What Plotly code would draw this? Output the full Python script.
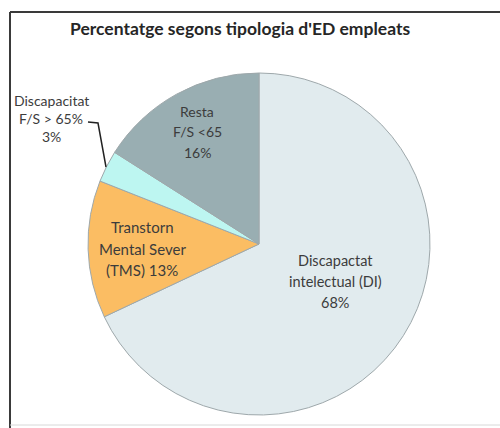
import plotly.graph_objects as go

# ---- data ----
labels = ["Discapactat intelectual (DI)", "Transtorn Mental Sever (TMS)",
          "Discapacitat F/S > 65%", "Resta F/S <65"]
values = [68, 13, 3, 16]
# how each label is broken into lines (the percentage is appended by the code)
label_lines = [["Discapactat", "intelectual (DI)"],
               ["Transtorn", "Mental Sever", "(TMS)"],
               ["Discapacitat", "F/S > 65%"],
               ["Resta", "F/S <65"]]
pct_on_last_line = [False, True, False, False]
title_text = "Percentatge segons tipologia d'ED empleats"

# ---- style / layout ----
colors = ["#e1ebee", "#fbbd63", "#bdf6f1", "#99aeb2"]
W, H = 500, 428
FONT = "Lato, 'Open Sans', sans-serif"
TXT = "#3c3c3c"
# text block anchors (pixel centers of first line) and line spacing
text_anchor = [(335, 260), (142, 227), (51, 100), (197, 111)]
line_gap = [21, 21.5, 18.5, 20.5]
label_size = [14.5, 15, 14, 14]


def px(x):
    return x / W


def py(y):
    return 1 - y / H


cx, cy, r = 259, 244, 171

fig = go.Figure(go.Pie(
    labels=labels,
    values=values,
    sort=False,
    direction="clockwise",
    rotation=0,
    marker=dict(colors=colors, line=dict(color="#9ea8ab", width=1)),
    textinfo="none",
    hoverinfo="label+percent",
    showlegend=False,
    domain=dict(x=[px(cx - r), px(cx + r)], y=[py(cy + r), py(cy - r)]),
))

annotations = []
total = sum(values)
for i, lines in enumerate(label_lines):
    pct = f"{round(100 * values[i] / total)}%"
    lines = list(lines)
    if pct_on_last_line[i]:
        lines[-1] = lines[-1] + " " + pct
    else:
        lines = lines + [pct]
    x0, y0 = text_anchor[i]
    for k, t in enumerate(lines):
        annotations.append(dict(
            x=px(x0), y=py(y0 + k * line_gap[i]), xref="paper", yref="paper",
            text=t, showarrow=False, xanchor="center", yanchor="middle",
            font=dict(family=FONT, size=label_size[i], color=TXT)))

annotations.append(dict(
    x=px(240), y=py(28), xref="paper", yref="paper", text="<b>" + title_text + "</b>",
    showarrow=False, xanchor="center", yanchor="middle",
    font=dict(family=FONT, size=17.5, color="#262626")))

shapes = [
    # chart frame
    dict(type="line", xref="paper", yref="paper", x0=px(10), x1=px(10), y0=py(12), y1=py(H + 2),
         line=dict(color="#3a3a3a", width=2)),
    dict(type="line", xref="paper", yref="paper", x0=px(10), x1=px(W + 2), y0=py(12), y1=py(12),
         line=dict(color="#3a3a3a", width=2)),
    dict(type="line", xref="paper", yref="paper", x0=px(10), x1=px(W + 2), y0=py(425), y1=py(425),
         line=dict(color="#d8d8d8", width=1)),
    # leader line for the small slice label
    dict(type="path", xref="paper", yref="paper",
         path=f"M {px(88)},{py(122)} L {px(98)},{py(123)} L {px(106)},{py(167)}",
         line=dict(color="#222222", width=1.5)),
]

fig.update_layout(
    width=W, height=H,
    margin=dict(l=0, r=0, t=0, b=0),
    paper_bgcolor="white", plot_bgcolor="white",
    annotations=annotations, shapes=shapes,
)

fig.write_html("out.html", config={"displayModeBar": False},
               post_script="document.body.style.margin='0';document.body.style.overflow='hidden';")
